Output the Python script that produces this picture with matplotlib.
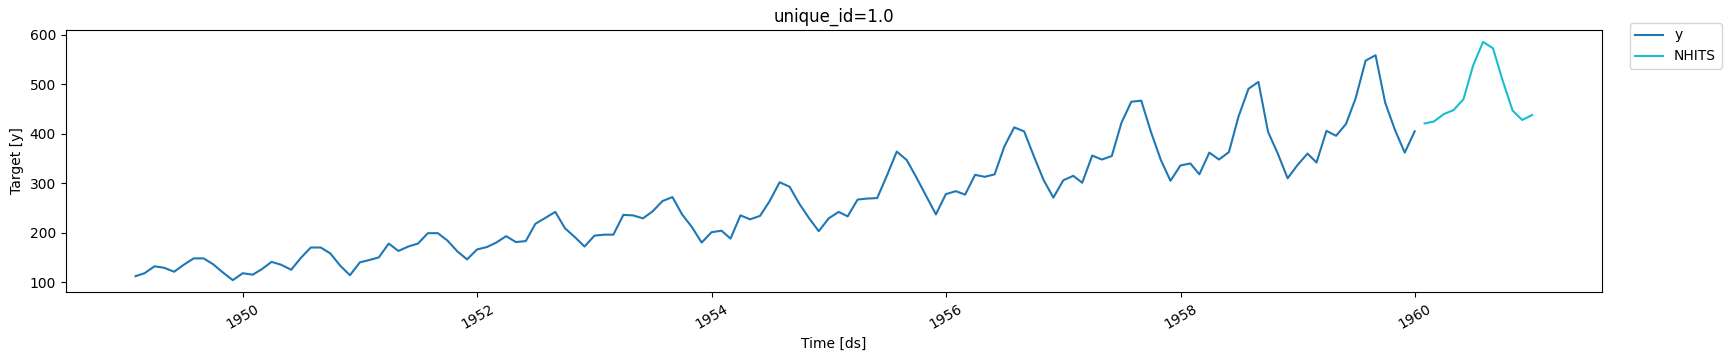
import pandas as pd
import matplotlib
matplotlib.use("Agg")
import matplotlib.pyplot as plt

# AirPassengers, 1949-01 .. 1959-12 (history)
y_values = [
    112, 118, 132, 129, 121, 135, 148, 148, 136, 119, 104, 118,
    115, 126, 141, 135, 125, 149, 170, 170, 158, 133, 114, 140,
    145, 150, 178, 163, 172, 178, 199, 199, 184, 162, 146, 166,
    171, 180, 193, 181, 183, 218, 230, 242, 209, 191, 172, 194,
    196, 196, 236, 235, 229, 243, 264, 272, 237, 211, 180, 201,
    204, 188, 235, 227, 234, 264, 302, 293, 259, 229, 203, 229,
    242, 233, 267, 269, 270, 315, 364, 347, 312, 274, 237, 278,
    284, 277, 317, 313, 318, 374, 413, 405, 355, 306, 271, 306,
    315, 301, 356, 348, 355, 422, 465, 467, 404, 347, 305, 336,
    340, 318, 362, 348, 363, 435, 491, 505, 404, 359, 310, 337,
    360, 342, 406, 396, 420, 472, 548, 559, 463, 407, 362, 405,
]
# NHITS forecast, 1960-01 .. 1960-12
nhits_values = [421, 425, 440, 448, 470, 538, 586, 573, 508, 447, 428, 438]

y_ds = pd.date_range("1949-01-31", periods=len(y_values), freq="ME")
nhits_ds = pd.date_range("1960-01-31", periods=len(nhits_values), freq="ME")

fig = plt.figure(figsize=(17.3, 3.61), dpi=100)
ax = fig.add_axes([0.038, 0.191, 0.888, 0.726])
ax.plot(y_ds, y_values, color="#1f77b4", label="y")
ax.plot(nhits_ds, nhits_values, color="#17becf", label="NHITS")
ax.set_title("unique_id=1.0")
ax.set_xlabel("Time [ds]")
ax.set_ylabel("Target [y]")
for lbl in ax.get_xticklabels():
    lbl.set_rotation(30)
ax.legend(loc="upper left", bbox_to_anchor=(1.018, 1.027), borderaxespad=0)

fig.savefig("out.png")
